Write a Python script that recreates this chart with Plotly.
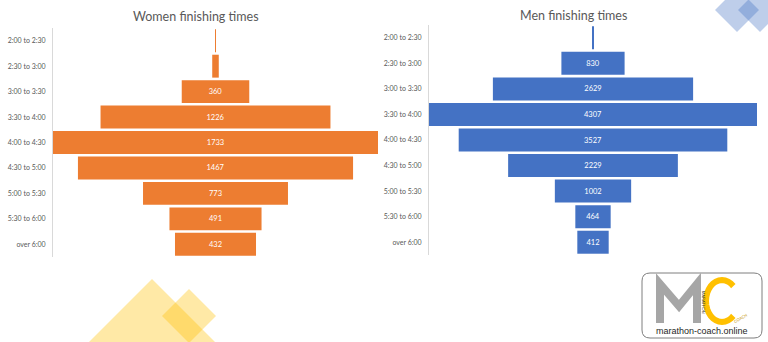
import math
import plotly.graph_objects as go

W, H = 768, 342

categories = ["2:00 to 2:30", "2:30 to 3:00", "3:00 to 3:30", "3:30 to 4:00",
              "4:00 to 4:30", "4:30 to 5:00", "5:00 to 5:30", "5:30 to 6:00", "over 6:00"]
women_values = [5, 35, 360, 1226, 1733, 1467, 773, 491, 432]
men_values = [25, 830, 2629, 4307, 3527, 2229, 1002, 464, 412]
women_labels = ["", "", "360", "1226", "1733", "1467", "773", "491", "432"]
men_labels = ["", "830", "2629", "4307", "3527", "2229", "1002", "464", "412"]

ORANGE = "#ED7D31"
BLUE = "#4472C4"
GREY = "#595959"
FONT = "Lato"


def px(x):
    return x / W


def py(y):
    return (H - y) / H


fig = go.Figure()

fig.add_trace(go.Bar(
    y=categories, x=women_values, base=[-v / 2 for v in women_values],
    orientation="h", marker=dict(color=ORANGE, line=dict(width=0)),
    text=women_labels, textposition="inside", insidetextanchor="middle",
    textangle=0, constraintext="none",
    textfont=dict(color="white", size=7.5, family=FONT),
    xaxis="x", yaxis="y", showlegend=False, hoverinfo="y+x",
))
fig.add_trace(go.Bar(
    y=categories, x=men_values, base=[-v / 2 for v in men_values],
    orientation="h", marker=dict(color=BLUE, line=dict(width=0)),
    text=men_labels, textposition="inside", insidetextanchor="middle",
    textangle=0, constraintext="none",
    textfont=dict(color="white", size=7.5, family=FONT),
    xaxis="x2", yaxis="y2", showlegend=False, hoverinfo="y+x",
))

wmax = max(women_values)
mmax = max(men_values)

axis_common = dict(showgrid=False, zeroline=False, showticklabels=False, fixedrange=True)
yaxis_common = dict(type="category", autorange="reversed", showgrid=False, zeroline=False,
                    showline=True, linecolor="#d9d9d9", linewidth=1, ticks="",
                    tickfont=dict(size=7, color=GREY, family=FONT), ticklabelstandoff=5)

fig.update_layout(
    width=W, height=H,
    margin=dict(l=0, r=0, t=0, b=0),
    paper_bgcolor="white", plot_bgcolor="rgba(0,0,0,0)",
    bargap=0.1,
    xaxis=dict(domain=[px(53), px(378)], range=[-wmax / 2, wmax / 2], anchor="y", **axis_common),
    yaxis=dict(domain=[py(257), py(28)], anchor="x", **yaxis_common),
    xaxis2=dict(domain=[px(429), px(757)], range=[-mmax / 2, mmax / 2], anchor="y2", **axis_common),
    yaxis2=dict(domain=[py(255), py(25)], anchor="x2", **yaxis_common),
)

# titles
fig.add_annotation(text="Women finishing times", x=px(196), y=py(17), xref="paper", yref="paper",
                   showarrow=False, font=dict(size=12.5, color=GREY, family=FONT),
                   xanchor="center", yanchor="middle")
fig.add_annotation(text="Men finishing times", x=px(573), y=py(15), xref="paper", yref="paper",
                   showarrow=False, font=dict(size=12.5, color=GREY, family=FONT),
                   xanchor="center", yanchor="middle")


def diamond(cx, cy, r, color):
    path = (f"M {px(cx - r)} {py(cy)} L {px(cx)} {py(cy - r)} "
            f"L {px(cx + r)} {py(cy)} L {px(cx)} {py(cy + r)} Z")
    fig.add_shape(type="path", path=path, xref="paper", yref="paper",
                  fillcolor=color, line=dict(width=0), layer="below")


# decorative diamonds
diamond(737, 10, 22, "rgba(68,114,196,0.35)")
diamond(760, 10, 22, "rgba(68,114,196,0.35)")
diamond(152, 342, 63, "rgba(255,192,0,0.35)")
diamond(189, 316, 27, "rgba(255,192,0,0.35)")

# logo box (rounded rectangle)
x0, x1, y0, y1, rr = 642, 762, 273, 338, 8
path = (f"M {px(x0 + rr)} {py(y0)} L {px(x1 - rr)} {py(y0)} Q {px(x1)} {py(y0)} {px(x1)} {py(y0 + rr)} "
        f"L {px(x1)} {py(y1 - rr)} Q {px(x1)} {py(y1)} {px(x1 - rr)} {py(y1)} "
        f"L {px(x0 + rr)} {py(y1)} Q {px(x0)} {py(y1)} {px(x0)} {py(y1 - rr)} "
        f"L {px(x0)} {py(y0 + rr)} Q {px(x0)} {py(y0)} {px(x0 + rr)} {py(y0)} Z")
fig.add_shape(type="path", path=path, xref="paper", yref="paper",
              fillcolor="white", line=dict(color="#7f7f7f", width=1))

# logo "M" as a thick grey stroke
m_pts = [(660, 323), (660, 284), (679, 306), (697, 284), (697, 323)]
m_path = "M " + " L ".join(f"{px(x)} {py(y)}" for x, y in m_pts)
fig.add_shape(type="path", path=m_path, xref="paper", yref="paper",
              line=dict(color="#a6a6a6", width=8))

# logo "C" as a thick yellow arc
c_pts = []
for i in range(25):
    a = math.radians(45 + i * 270 / 24)
    c_pts.append((722 + 16 * math.cos(a), 301 - 21 * math.sin(a)))
c_path = "M " + " L ".join(f"{px(x)} {py(y)}" for x, y in c_pts)
fig.add_shape(type="path", path=c_path, xref="paper", yref="paper",
              line=dict(color="#ffc000", width=6))

fig.add_annotation(text="MARATHON", x=px(704), y=py(302), xref="paper", yref="paper", showarrow=False,
                   font=dict(size=4, color="#404040", family="Liberation Sans"), textangle=90,
                   xanchor="center", yanchor="middle")
fig.add_annotation(text="COACH", x=px(740), y=py(318), xref="paper", yref="paper", showarrow=False,
                   font=dict(size=4, color="#bf9000", family="Liberation Sans"), textangle=-30,
                   xanchor="center", yanchor="middle")
fig.add_annotation(text="marathon-coach.online", x=px(702), y=py(331), xref="paper", yref="paper",
                   showarrow=False, font=dict(size=9, color="#262626", family="Liberation Sans"),
                   xanchor="center", yanchor="middle")

fig.write_html("out.html")
